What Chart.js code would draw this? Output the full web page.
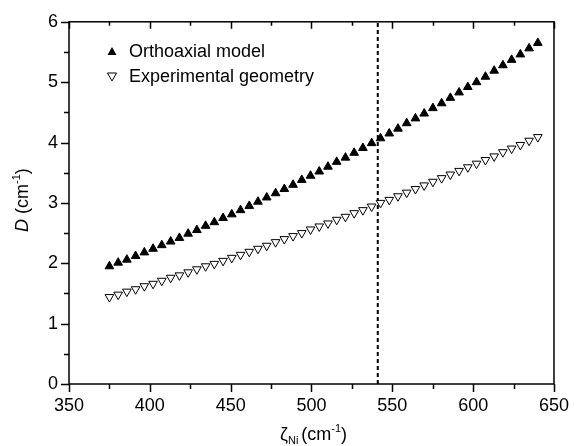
<!DOCTYPE html>
<html>
<head>
<meta charset="utf-8">
<script src="https://cdn.jsdelivr.net/npm/chart.js@4.4.1/dist/chart.umd.min.js"></script>
<style>
  html, body { margin: 0; padding: 0; background: #fff; }
  #wrap { width: 580px; height: 446px; }
</style>
</head>
<body>
<div id="wrap"><canvas id="chart" width="580" height="446"></canvas></div>
<script>
// zeta_Ni values (cm-1)
const zeta = [375.0, 380.4, 385.8, 391.2, 396.6, 402.0, 407.4, 412.9, 418.3, 423.7,
  429.1, 434.5, 439.9, 445.3, 450.7, 456.1, 461.5, 466.9, 472.3, 477.8,
  483.2, 488.6, 494.0, 499.4, 504.8, 510.2, 515.6, 521.0, 526.4, 531.8,
  537.2, 542.7, 548.1, 553.5, 558.9, 564.3, 569.7, 575.1, 580.5, 585.9,
  591.3, 596.7, 602.1, 607.6, 613.0, 618.4, 623.8, 629.2, 634.6, 640.0];

// D (cm-1), orthoaxial model
const orthoaxial = [1.95, 2.01, 2.06, 2.12, 2.18, 2.24, 2.30, 2.36, 2.42, 2.49,
  2.55, 2.62, 2.68, 2.75, 2.81, 2.88, 2.95, 3.02, 3.09, 3.16,
  3.23, 3.30, 3.38, 3.45, 3.52, 3.60, 3.68, 3.75, 3.83, 3.91,
  3.99, 4.07, 4.15, 4.23, 4.32, 4.40, 4.48, 4.57, 4.65, 4.74,
  4.83, 4.92, 5.00, 5.09, 5.19, 5.28, 5.37, 5.46, 5.56, 5.65];

// D (cm-1), experimental geometry
const experimental = [1.44, 1.48, 1.53, 1.57, 1.62, 1.66, 1.71, 1.76, 1.80, 1.85,
  1.90, 1.95, 1.99, 2.04, 2.09, 2.14, 2.19, 2.24, 2.29, 2.35,
  2.40, 2.45, 2.50, 2.56, 2.61, 2.66, 2.72, 2.77, 2.83, 2.88,
  2.94, 3.00, 3.05, 3.11, 3.17, 3.23, 3.29, 3.35, 3.41, 3.47,
  3.53, 3.59, 3.65, 3.71, 3.77, 3.84, 3.90, 3.96, 4.03, 4.09];

const seriesNames = ['Orthoaxial model', 'Experimental geometry'];
const markerZeta = 541;   // dotted vertical line
const xRange = [350, 650];
const yRange = [0, 6];

const FONT = '"Liberation Sans", Arial, sans-serif';

// frame, minor ticks, legend and axis titles
const decor = {
  id: 'decor',
  afterDraw(chart) {
    const { ctx, chartArea: a, scales: { x, y } } = chart;
    ctx.save();
    ctx.strokeStyle = '#000';
    ctx.lineWidth = 1.5;
    ctx.strokeRect(a.left, a.top, a.right - a.left, a.bottom - a.top);

    ctx.beginPath();
    for (let v = xRange[0]; v <= xRange[1]; v += 25) {
      const px = Math.round(x.getPixelForValue(v)) + 0.5;
      const len = v % 50 === 0 ? 8 : 5;
      ctx.moveTo(px, a.bottom); ctx.lineTo(px, a.bottom + len);
      ctx.moveTo(px, a.top); ctx.lineTo(px, a.top + len - 1);
    }
    for (let v = yRange[0]; v <= yRange[1]; v += 0.5) {
      const py = Math.round(y.getPixelForValue(v)) + 0.5;
      const len = v % 1 === 0 ? 8 : 5;
      ctx.moveTo(a.left, py); ctx.lineTo(a.left - len, py);
    }
    ctx.stroke();

    // legend
    ctx.font = '18px ' + FONT;
    ctx.fillStyle = '#000';
    ctx.textBaseline = 'middle';
    ctx.textAlign = 'left';
    const lx = 112, ly = [52, 77];
    ctx.lineWidth = 1;
    ctx.beginPath();
    ctx.moveTo(lx, ly[0] - 5); ctx.lineTo(lx + 4.5, ly[0] + 3); ctx.lineTo(lx - 4.5, ly[0] + 3);
    ctx.closePath(); ctx.fill();
    ctx.beginPath();
    ctx.moveTo(lx, ly[1] + 4); ctx.lineTo(lx + 4.5, ly[1] - 4); ctx.lineTo(lx - 4.5, ly[1] - 4);
    ctx.closePath(); ctx.stroke();
    ctx.fillText(seriesNames[0], 129, ly[0]);
    ctx.fillText(seriesNames[1], 129, ly[1]);

    // x title: ζNi (cm-1)
    ctx.textBaseline = 'alphabetic';
    let tx = 280, ty = 440;
    ctx.font = '18px ' + FONT;
    ctx.fillText('ζ', tx, ty); tx += ctx.measureText('ζ').width;
    ctx.font = '11px ' + FONT;
    ctx.fillText('Ni', tx, ty + 4); tx += ctx.measureText('Ni').width + 3;
    ctx.font = '18px ' + FONT;
    ctx.fillText('(cm', tx, ty); tx += ctx.measureText('(cm').width;
    ctx.font = '11px ' + FONT;
    ctx.fillText('-1', tx, ty - 8); tx += ctx.measureText('-1').width;
    ctx.font = '18px ' + FONT;
    ctx.fillText(')', tx, ty);

    // y title: D (cm-1)
    ctx.translate(28, 232);
    ctx.rotate(-Math.PI / 2);
    tx = 0;
    ctx.font = 'italic 18px ' + FONT;
    ctx.fillText('D', tx, 0); tx += ctx.measureText('D ').width;
    ctx.font = '18px ' + FONT;
    ctx.fillText('(cm', tx, 0); tx += ctx.measureText('(cm').width;
    ctx.font = '11px ' + FONT;
    ctx.fillText('-1', tx, -8); tx += ctx.measureText('-1').width;
    ctx.font = '18px ' + FONT;
    ctx.fillText(')', tx, 0);
    ctx.restore();
  }
};

new Chart(document.getElementById('chart'), {
  type: 'scatter',
  data: {
    datasets: [
      {
        label: seriesNames[0],
        data: zeta.map((z, i) => ({ x: z, y: orthoaxial[i] })),
        pointStyle: 'triangle',
        pointRadius: 5,
        backgroundColor: '#000',
        borderColor: '#000',
        borderWidth: 1
      },
      {
        label: seriesNames[1],
        data: zeta.map((z, i) => ({ x: z, y: experimental[i] })),
        pointStyle: 'triangle',
        pointRotation: 180,
        pointRadius: 5,
        backgroundColor: '#fff',
        borderColor: '#000',
        borderWidth: 1
      },
      {
        type: 'line',
        label: 'marker',
        data: [{ x: markerZeta, y: yRange[0] }, { x: markerZeta, y: yRange[1] }],
        borderColor: '#000',
        borderWidth: 2,
        borderDash: [4, 3],
        pointRadius: 0,
        fill: false
      }
    ]
  },
  options: {
    responsive: false,
    animation: false,
    layout: { padding: { left: 0, top: 19, right: 17, bottom: 0 } },
    plugins: { legend: { display: false }, tooltip: { enabled: false } },
    scales: {
      x: {
        type: 'linear',
        min: xRange[0], max: xRange[1],
        grid: { display: false, drawTicks: false },
        border: { display: false },
        ticks: { stepSize: 50, padding: 11, color: '#000', font: { size: 18, family: FONT } },
        afterFit(s) { s.height = 62; }
      },
      y: {
        min: yRange[0], max: yRange[1],
        grid: { display: false, drawTicks: false },
        border: { display: false },
        ticks: { stepSize: 1, padding: 11, color: '#000', font: { size: 18, family: FONT } },
        afterFit(s) { s.width = 69; }
      }
    }
  },
  plugins: [decor]
});
</script>
</body>
</html>
